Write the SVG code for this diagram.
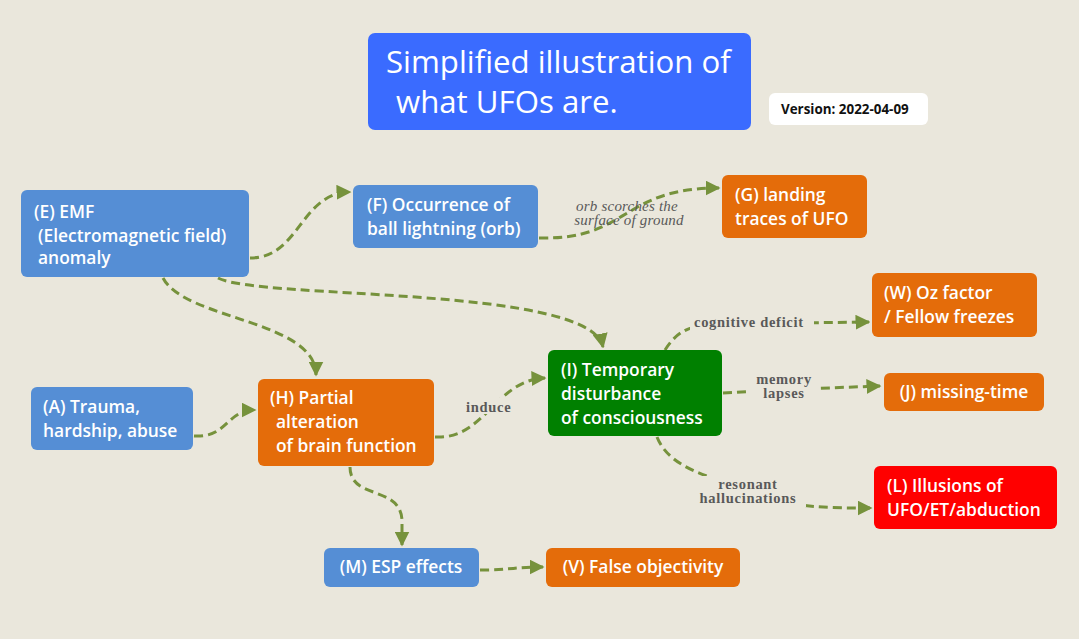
<svg xmlns="http://www.w3.org/2000/svg" width="1079" height="639" viewBox="0 0 1079 639">
<defs>
<marker id="arr" viewBox="0 0 10 10" refX="9" refY="5" markerWidth="5" markerHeight="5" markerUnits="strokeWidth" orient="auto">
<path d="M0,0 L10,5 L0,10 z" fill="#76923C"/>
</marker>
<style>
.bg{fill:#EAE7DC}
.n text{font-family:"Open Sans","Liberation Sans",sans-serif;font-weight:600;font-size:17.4px;fill:#FFFFFF}
.blue{fill:#558ED5}
.orange{fill:#E46C0A}
.green{fill:#008000}
.red{fill:#FF0000}
.c path{fill:none;stroke:#76923C;stroke-width:3;stroke-dasharray:9 5;marker-end:url(#arr)}
.lbl{font-family:"Liberation Serif","DejaVu Serif",serif;font-weight:700;font-size:14.5px;letter-spacing:0.7px;fill:#595959}
.lbli{font-family:"Liberation Serif","DejaVu Serif",serif;font-style:italic;font-size:15px;letter-spacing:0.2px;fill:#595959}
.lbg{fill:#EAE7DC}
</style>
</defs>
<rect class="bg" x="0" y="0" width="1079" height="639"/>

<g id="title">
<rect x="368" y="33" width="383" height="97" rx="7" fill="#3A6BFF"/>
<text font-family="Open Sans, Liberation Sans, sans-serif" font-size="31.2" fill="#FFFFFF"><tspan x="386" y="73">Simplified illustration of</tspan><tspan x="396" y="113">what UFOs are.</tspan></text>
</g>
<g id="version">
<rect x="769" y="93" width="159" height="32" rx="6" fill="#FFFFFF"/>
<text x="781" y="114" font-family="Open Sans, Liberation Sans, sans-serif" font-weight="700" font-size="13.4" fill="#111111">Version: 2022-04-09</text>
</g>

<g id="connectors" class="c">
<path d="M250,258 C300,258 300,193 350,192"/>
<path d="M539,238 C630,240 620,188 719,188"/>
<path d="M218,278 C260,300 590,285 603,347"/>
<path d="M163,278 C185,320 316,320 316,375"/>
<path d="M194,436 C228,438 226,410 255,410"/>
<path d="M435,437 C485,440 495,380 545,378"/>
<path d="M665,350 C678,330 690,325 720,324 L869,322"/>
<path d="M723,393 L800,389 L880,386"/>
<path d="M657,437 C672,475 730,480 760,494 C790,508 830,508 871,508"/>
<path d="M350,467 C350,500 400,485 402,520 L402,545"/>
<path d="M480,570 C510,570 515,567 543,567"/>
</g>

<g id="labels">
<rect class="lbg" x="690" y="313" width="124" height="17"/>
<text class="lbl" x="694" y="327">cognitive deficit</text>
<rect class="lbg" x="750" y="372" width="68" height="31"/>
<text class="lbl" text-anchor="middle"><tspan x="784" y="384">memory</tspan><tspan x="784" y="398">lapses</tspan></text>
<rect class="lbg" x="690" y="476" width="116" height="31"/>
<text class="lbl" text-anchor="middle"><tspan x="748" y="489">resonant</tspan><tspan x="748" y="503">hallucinations</tspan></text>
<rect class="lbg" x="462" y="398" width="58" height="16"/>
<text class="lbl" x="466" y="412">induce</text>
<text class="lbli" text-anchor="middle"><tspan x="627" y="211">orb scorches the</tspan><tspan x="629" y="225">surface of ground</tspan></text>
</g>

<g id="E" class="n"><rect class="blue" x="21" y="190" width="228" height="87" rx="6"/><text><tspan x="34" y="218">(E) EMF</tspan><tspan x="38" y="242">(Electromagnetic field)</tspan><tspan x="38" y="264">anomaly</tspan></text></g>
<g id="F" class="n"><rect class="blue" x="353" y="185" width="185" height="63" rx="6"/><text><tspan x="367" y="211">(F) Occurrence of</tspan><tspan x="367" y="235">ball lightning (orb)</tspan></text></g>
<g id="G" class="n"><rect class="orange" x="722" y="175" width="145" height="63" rx="6"/><text><tspan x="735" y="201">(G) landing</tspan><tspan x="735" y="225">traces of UFO</tspan></text></g>
<g id="W" class="n"><rect class="orange" x="872" y="273" width="165" height="64" rx="6"/><text><tspan x="884" y="299">(W) Oz factor</tspan><tspan x="884" y="323">/ Fellow freezes</tspan></text></g>
<g id="J" class="n"><rect class="orange" x="884" y="373" width="160" height="38" rx="6"/><text x="964" y="398" text-anchor="middle">(J) missing-time</text></g>
<g id="I" class="n"><rect class="green" x="548" y="350" width="174" height="86" rx="6"/><text><tspan x="561" y="376">(I) Temporary</tspan><tspan x="561" y="400">disturbance</tspan><tspan x="561" y="424">of consciousness</tspan></text></g>
<g id="A" class="n"><rect class="blue" x="31" y="387" width="162" height="63" rx="6"/><text><tspan x="43" y="413">(A) Trauma,</tspan><tspan x="43" y="437">hardship, abuse</tspan></text></g>
<g id="H" class="n"><rect class="orange" x="258" y="379" width="176" height="87" rx="6"/><text><tspan x="270" y="404">(H) Partial</tspan><tspan x="276" y="428">alteration</tspan><tspan x="276" y="452">of brain function</tspan></text></g>
<g id="M" class="n"><rect class="blue" x="324" y="548" width="155" height="39" rx="6"/><text x="401" y="573" text-anchor="middle">(M) ESP effects</text></g>
<g id="V" class="n"><rect class="orange" x="546" y="548" width="194" height="39" rx="6"/><text x="643" y="573" text-anchor="middle">(V) False objectivity</text></g>
<g id="L" class="n"><rect class="red" x="874" y="466" width="183" height="63" rx="6"/><text><tspan x="887" y="492">(L) Illusions of</tspan><tspan x="887" y="516">UFO/ET/abduction</tspan></text></g>
</svg>
